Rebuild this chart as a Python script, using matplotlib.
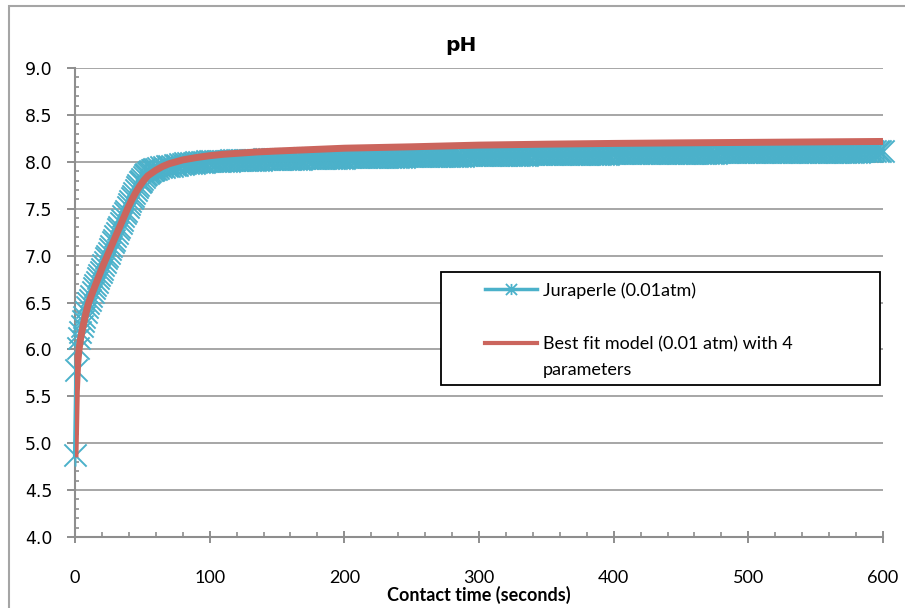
import numpy as np
import matplotlib
matplotlib.use("Agg")
import matplotlib.pyplot as plt
from matplotlib.path import Path
from matplotlib.lines import Line2D
from matplotlib.patches import Rectangle
from matplotlib.ticker import MultipleLocator, FormatStrFormatter

# ---- measured data: Juraperle, pH vs contact time (s) ----
data_time = np.concatenate([np.arange(0, 61, 1), np.arange(62, 601, 2)])
data_ph = [
    # 0 - 60 s, every second
    4.87, 5.78, 6.02, 6.12, 6.19, 6.25, 6.30, 6.35, 6.40, 6.45,
    6.49, 6.53, 6.57, 6.61, 6.65, 6.69, 6.72, 6.76, 6.79, 6.83,
    6.86, 6.90, 6.93, 6.97, 7.00, 7.03, 7.07, 7.10, 7.14, 7.17,
    7.21, 7.24, 7.28, 7.31, 7.35, 7.38, 7.42, 7.45, 7.48, 7.52,
    7.55, 7.58, 7.61, 7.64, 7.67, 7.70, 7.73, 7.75, 7.78, 7.80,
    7.82, 7.84, 7.86, 7.87, 7.88, 7.89, 7.90, 7.91, 7.915, 7.92,
    7.925,
    # 62 - 100 s, every 2 s
    7.935, 7.94, 7.945, 7.95, 7.955, 7.96, 7.965, 7.97, 7.975, 7.98,
    7.983, 7.986, 7.989, 7.992, 7.995, 7.998, 8.000, 8.002, 8.004, 8.006,
    # 102 - 200 s
    8.007, 8.008, 8.009, 8.010, 8.011, 8.012, 8.013, 8.014, 8.015, 8.016,
    8.017, 8.018, 8.019, 8.020, 8.021, 8.022, 8.022, 8.023, 8.024, 8.025,
    8.026, 8.026, 8.027, 8.028, 8.029, 8.030, 8.030, 8.031, 8.032, 8.033,
    8.033, 8.034, 8.035, 8.035, 8.036, 8.037, 8.037, 8.038, 8.039, 8.039,
    8.040, 8.041, 8.041, 8.042, 8.043, 8.043, 8.044, 8.044, 8.045, 8.045,
    # 202 - 300 s
    8.046, 8.046, 8.047, 8.047, 8.048, 8.048, 8.049, 8.049, 8.050, 8.050,
    8.051, 8.051, 8.052, 8.052, 8.053, 8.053, 8.054, 8.054, 8.055, 8.055,
    8.056, 8.056, 8.057, 8.057, 8.058, 8.058, 8.059, 8.059, 8.060, 8.060,
    8.061, 8.061, 8.062, 8.062, 8.063, 8.063, 8.064, 8.064, 8.065, 8.065,
    8.066, 8.066, 8.067, 8.067, 8.068, 8.068, 8.069, 8.069, 8.070, 8.070,
    # 302 - 400 s
    8.070, 8.071, 8.071, 8.072, 8.072, 8.072, 8.073, 8.073, 8.074, 8.074,
    8.074, 8.075, 8.075, 8.076, 8.076, 8.076, 8.077, 8.077, 8.078, 8.078,
    8.078, 8.079, 8.079, 8.080, 8.080, 8.080, 8.081, 8.081, 8.082, 8.082,
    8.082, 8.083, 8.083, 8.084, 8.084, 8.084, 8.085, 8.085, 8.085, 8.086,
    8.086, 8.086, 8.087, 8.087, 8.087, 8.088, 8.088, 8.088, 8.089, 8.089,
    # 402 - 500 s
    8.089, 8.090, 8.090, 8.090, 8.090, 8.091, 8.091, 8.091, 8.092, 8.092,
    8.092, 8.092, 8.093, 8.093, 8.093, 8.094, 8.094, 8.094, 8.094, 8.095,
    8.095, 8.095, 8.096, 8.096, 8.096, 8.096, 8.097, 8.097, 8.097, 8.097,
    8.098, 8.098, 8.098, 8.098, 8.099, 8.099, 8.099, 8.099, 8.100, 8.100,
    8.100, 8.100, 8.101, 8.101, 8.101, 8.101, 8.102, 8.102, 8.102, 8.102,
    # 502 - 600 s
    8.102, 8.103, 8.103, 8.103, 8.103, 8.103, 8.104, 8.104, 8.104, 8.104,
    8.104, 8.105, 8.105, 8.105, 8.105, 8.105, 8.106, 8.106, 8.106, 8.106,
    8.106, 8.106, 8.107, 8.107, 8.107, 8.107, 8.107, 8.107, 8.108, 8.108,
    8.108, 8.108, 8.108, 8.108, 8.109, 8.109, 8.109, 8.109, 8.109, 8.109,
    8.109, 8.110, 8.110, 8.110, 8.110, 8.110, 8.110, 8.110, 8.111, 8.111,
]

# ---- best fit model curve (4 parameters) ----
model_time = [0, 1, 2, 3, 4, 5, 6, 8, 10, 12, 15, 18, 21, 24, 27, 30, 33, 36, 39, 42,
              45, 48, 51, 54, 57, 60, 65, 70, 75, 80, 90, 100, 110, 120, 135, 150, 175,
              200, 250, 300, 350, 400, 450, 500, 550, 600]
model_ph = [4.85, 5.55, 5.85, 6.00, 6.10, 6.18, 6.25, 6.38, 6.49, 6.57, 6.68, 6.79, 6.90,
            7.00, 7.10, 7.20, 7.30, 7.40, 7.50, 7.59, 7.67, 7.74, 7.80, 7.85, 7.88, 7.91,
            7.95, 7.98, 8.00, 8.02, 8.045, 8.065, 8.08, 8.09, 8.105, 8.115, 8.13, 8.145,
            8.16, 8.178, 8.188, 8.196, 8.202, 8.207, 8.212, 8.217]

series_labels = ["Juraperle (0.01atm)", "Best fit model (0.01 atm) with 4", "parameters"]
chart_title = "pH"
x_label = "Contact time (seconds)"

BLUE = "#4BB1CA"
RED = "#CB655D"
GRID = "#A6A6A6"
AXIS = "#8E8E8E"

W, H = 905, 608
fig = plt.figure(figsize=(W / 100, H / 100), dpi=100)
fig.patch.set_facecolor("white")

# outer chart-area frame
fig.patches.append(Rectangle((9 / W, -0.05), 1.2, 1.05 - 6 / H, transform=fig.transFigure,
                             fill=False, edgecolor="#A5A5A5", linewidth=1.5))

ax = fig.add_axes([75 / W, 1 - 537 / H, 808 / W, 469 / H])

star = Path([(-1, -1), (1, 1), (-1, 1), (1, -1), (0, -1), (0, 1)],
            [Path.MOVETO, Path.LINETO, Path.MOVETO, Path.LINETO, Path.MOVETO, Path.LINETO])

ax.plot(data_time, data_ph, color=BLUE, linewidth=3, marker=star, markersize=16,
        markeredgewidth=1.4, markeredgecolor=BLUE, zorder=3, clip_on=False)
ax.plot(model_time, model_ph, color=RED, linewidth=5, solid_capstyle="butt", zorder=4)

ax.set_xlim(0, 600)
ax.set_ylim(4.0, 9.0)
ax.xaxis.set_major_locator(MultipleLocator(100))
ax.xaxis.set_minor_locator(MultipleLocator(20))
ax.yaxis.set_major_locator(MultipleLocator(0.5))
ax.yaxis.set_minor_locator(MultipleLocator(0.1))
ax.yaxis.set_major_formatter(FormatStrFormatter("%.1f"))

ax.grid(axis="y", which="major", color=GRID, linewidth=1.4)
ax.set_axisbelow(True)
for side in ("top", "right"):
    ax.spines[side].set_visible(False)
for side in ("left", "bottom"):
    ax.spines[side].set_color(AXIS)
    ax.spines[side].set_linewidth(1.5)

ax.tick_params(axis="y", which="major", direction="out", length=5.5, width=1.4, color=AXIS,
               pad=11, labelsize=12.5, labelcolor="black")
ax.tick_params(axis="y", which="minor", direction="in", length=3, width=1.2, color=AXIS)
ax.tick_params(axis="x", which="major", direction="inout", length=9, width=1.4, color=AXIS,
               pad=19, labelsize=13, labelcolor="black")
ax.tick_params(axis="x", which="minor", direction="in", length=3.5, width=1.2, color=AXIS)
for lab in ax.get_xticklabels():
    lab.set_fontfamily("Lato")
for lab in ax.get_yticklabels():
    lab.set_fontfamily("DejaVu Sans")

ax.set_xlabel(x_label, fontfamily="Lato", fontweight="bold", fontsize=13)
ax.xaxis.set_label_coords(0.5, -(586 - 537) / 469)

fig.text(461 / W, 1 - 51 / H, chart_title, ha="center", va="baseline",
         fontfamily="DejaVu Sans", fontweight="bold", fontsize=14.5)

# legend box
fig.patches.append(Rectangle((441 / W, 1 - 385 / H), (880 - 441) / W, (385 - 272) / H,
                             transform=fig.transFigure, fill=True, facecolor="white",
                             edgecolor="black", linewidth=1.3, zorder=5))
handles = [
    Line2D([], [], color=BLUE, linewidth=2.5, marker=star, markersize=8, markeredgewidth=1.3),
    Line2D([], [], color=RED, linewidth=3),
]
leg = fig.legend(handles, series_labels[:2], loc="upper left",
                 bbox_to_anchor=(485 / W, 1 - 282 / H), bbox_transform=fig.transFigure,
                 frameon=False, prop={"family": "Lato", "size": 13},
                 handlelength=2.9, handletextpad=0.3, labelspacing=2.1, borderpad=0,
                 borderaxespad=0)
leg.set_zorder(6)

# wrapped continuation of the second legend label
fig.canvas.draw()
bb = leg.get_texts()[1].get_window_extent()
fig.text(bb.x0 / W, (bb.y0 - 25) / H, series_labels[2], ha="left", va="bottom",
         fontfamily="Lato", fontsize=13, zorder=7)

fig.savefig("out.png", dpi=100, facecolor="white")
